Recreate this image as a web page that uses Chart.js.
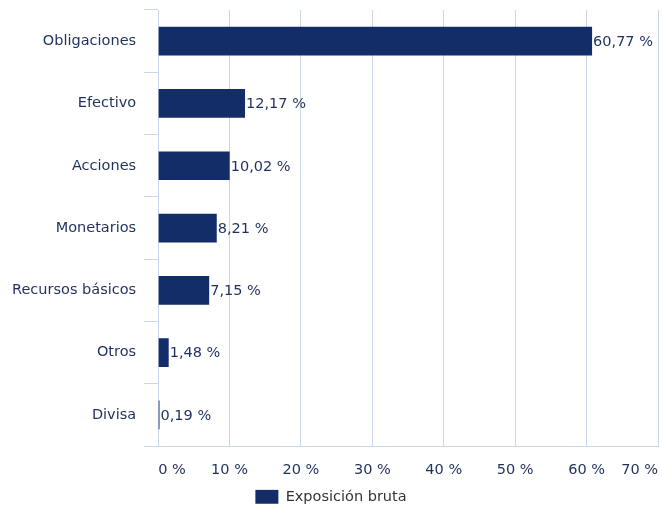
<!DOCTYPE html>
<html>
<head>
<meta charset="utf-8">
<script src="https://cdn.jsdelivr.net/npm/chart.js@4/dist/chart.umd.min.js"></script>
<style>
  html, body { margin: 0; padding: 0; background: #fff; }
  #wrap { width: 662px; height: 514px; }
</style>
</head>
<body>
<div id="wrap"><canvas id="exposureChart"></canvas></div>
<script>
const categories = ['Obligaciones', 'Efectivo', 'Acciones', 'Monetarios', 'Recursos básicos', 'Otros', 'Divisa'];
const exposureValues = [60.77, 12.17, 10.02, 8.21, 7.15, 1.48, 0.19];
const tickValues = [0, 10, 20, 30, 40, 50, 60, 70];

const navy = '#132d69';
const textColor = '#1f305e';
const gridColor = '#c9d5e8';
const fontSize = 14.5;

function formatPct(v, digits) {
  return v.toFixed(digits).replace('.', ',') + ' %';
}

// draws the value next to the end of each bar
const valueLabels = {
  id: 'valueLabels',
  afterDatasetsDraw(chart) {
    const ctx = chart.ctx;
    const meta = chart.getDatasetMeta(0);
    ctx.save();
    ctx.font = fontSize + 'px "DejaVu Sans"';
    ctx.fillStyle = textColor;
    ctx.textAlign = 'left';
    ctx.textBaseline = 'middle';
    meta.data.forEach(function(bar, i) {
      ctx.fillText(formatPct(exposureValues[i], 2), bar.x + 1, bar.y + 1);
    });
    ctx.restore();
  }
};

// keep the plot flush with the layout padding
function noScalePadding(scale) {
  scale.paddingTop = 0;
  scale.paddingBottom = 0;
  scale.paddingRight = 0;
}

const ctx = document.getElementById('exposureChart').getContext('2d');
new Chart(ctx, {
  type: 'bar',
  data: {
    labels: categories,
    datasets: [{
      label: 'Exposición bruta',
      data: exposureValues,
      backgroundColor: navy,
      borderWidth: 0,
      barPercentage: 0.5,
      categoryPercentage: 0.92
    }]
  },
  options: {
    indexAxis: 'y',
    responsive: true,
    maintainAspectRatio: false,
    animation: false,
    layout: { padding: { top: 10, left: 4, right: 4, bottom: 0 } },
    scales: {
      x: {
        min: 0,
        max: 70,
        afterBuildTicks: function(scale) {
          scale.ticks = tickValues.map(v => ({ value: v }));
        },
        afterFit: function(scale) {
          noScalePadding(scale);
          scale.height -= 4;
        },
        grid: { color: gridColor, drawTicks: false },
        border: { color: gridColor },
        ticks: {
          color: textColor,
          font: { family: 'DejaVu Sans', size: fontSize },
          padding: 15,
          align: 'inner',
          callback: v => v + ' %'
        }
      },
      y: {
        afterFit: noScalePadding,
        grid: { color: gridColor, drawOnChartArea: false, tickLength: 14, offset: true },
        border: { color: gridColor },
        ticks: {
          color: textColor,
          font: { family: 'DejaVu Sans', size: fontSize },
          padding: 8
        }
      }
    },
    plugins: {
      legend: {
        position: 'bottom',
        labels: {
          color: '#333333',
          font: { family: 'DejaVu Sans', size: fontSize },
          boxWidth: 23,
          boxHeight: 14,
          padding: 0
        }
      },
      tooltip: { enabled: false }
    }
  },
  plugins: [valueLabels]
});
</script>
</body>
</html>
